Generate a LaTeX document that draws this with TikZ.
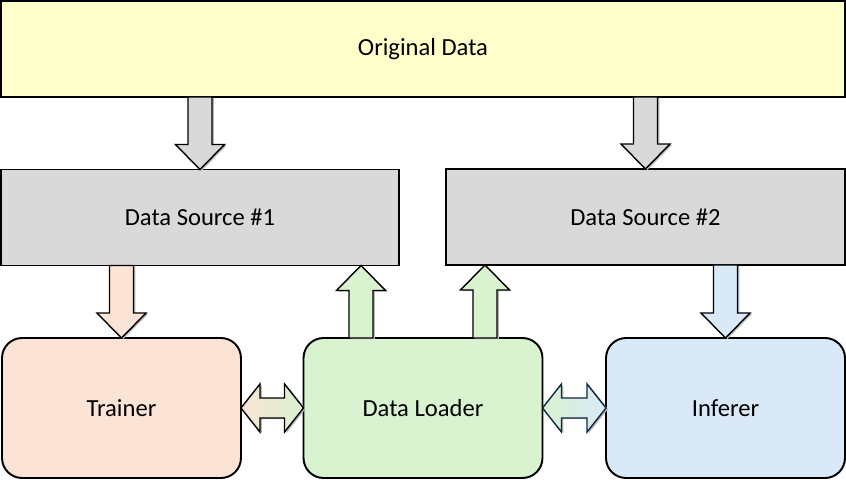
\documentclass[tikz,border=0pt]{standalone}
\usepackage{fontspec}
\setmainfont{Carlito}
\usetikzlibrary{calc}
\definecolor{amarelo}{HTML}{FFFFCC}
\definecolor{cinza}{HTML}{D9D9D9}
\definecolor{salmao}{HTML}{FBE3D6}
\definecolor{verde}{HTML}{D9F2D0}
\definecolor{azul}{HTML}{DAE9F7}
\definecolor{marinho}{HTML}{0E2841}

\newcommand{\seta}[3][]{%
  \coordinate (sa) at (#2);
  \coordinate (sb) at (#3);
  \coordinate (sh) at ($(sb)!0.5cm!(sa)$);
  \draw[fatseta,#1] ($(sa)!0.24cm!90:(sb)$) -- ($(sh)!0.24cm!90:(sb)$) -- ($(sh)!0.49cm!90:(sb)$)
    -- (sb) -- ($(sh)!0.49cm!-90:(sb)$) -- ($(sh)!0.24cm!-90:(sb)$) -- ($(sa)!0.24cm!-90:(sb)$) -- cycle;
}
\newcommand{\setadupla}[3][]{%
  \coordinate (sa) at (#2);
  \coordinate (sb) at (#3);
  \coordinate (ha) at ($(sa)!0.38cm!(sb)$);
  \coordinate (hb) at ($(sb)!0.38cm!(sa)$);
  \draw[fatseta,#1] (sa) -- ($(ha)!0.48cm!90:(sb)$) -- ($(ha)!0.2cm!90:(sb)$) -- ($(hb)!0.2cm!90:(sb)$)
    -- ($(hb)!0.48cm!90:(sb)$) -- (sb) -- ($(hb)!0.48cm!-90:(sb)$) -- ($(hb)!0.2cm!-90:(sb)$)
    -- ($(ha)!0.2cm!-90:(sb)$) -- ($(ha)!0.48cm!-90:(sb)$) -- cycle;
}

\begin{document}
\begin{tikzpicture}[
    x=0.02cm, y=-0.02cm,
    caixa/.style={draw=black, line width=1.1pt, inner sep=0pt, outer sep=0pt,
        font=\fontsize{14}{17}\selectfont},
    painel/.style={caixa, rounded corners=0.4cm, minimum width=4.78cm, minimum height=2.8cm},
    fonte/.style={caixa, fill=cinza, minimum width=7.98cm, minimum height=1.92cm},
    fatseta/.style={draw=black, line width=0.8pt, line join=miter,
        preaction={fill=black!28, transform canvas={xshift=1.1pt, yshift=-0.6pt}}},
  ]
  \useasboundingbox (0,0) rectangle (846,480);

  \node[caixa, fill=amarelo, minimum width=16.88cm, minimum height=1.92cm] (orig) at (423,49) {Original Data};
  \node[fonte] (ds1) at (200,217.5) {Data Source \#1};
  \node[fonte] (ds2) at (645.5,217) {Data Source \#2};
  \node[painel, fill=salmao] (trainer) at (121.5,408) {Trainer};
  \node[painel, fill=verde] (loader) at (423,408) {Data Loader};
  \node[painel, fill=azul] (inferer) at (725.5,408) {Inferer};

  \coordinate (up1) at ([xshift=-1.24cm]loader.north);
  \coordinate (up2) at ([xshift=1.24cm]loader.north);

  \seta[fill=cinza]{orig.south -| ds1.north}{ds1.north}
  \seta[fill=cinza]{orig.south -| ds2.north}{ds2.north}
  \seta[fill=salmao]{ds1.south -| trainer.north}{trainer.north}
  \seta[fill=azul]{ds2.south -| inferer.north}{inferer.north}
  \seta[fill=verde]{up1}{up1 |- ds1.south}
  \seta[fill=verde]{up2}{up2 |- ds2.south}
  \setadupla[left color=salmao, right color=verde]{trainer.east}{loader.west}
  \setadupla[draw=marinho, left color=verde, right color=azul]{loader.east}{inferer.west}
\end{tikzpicture}
\end{document}
